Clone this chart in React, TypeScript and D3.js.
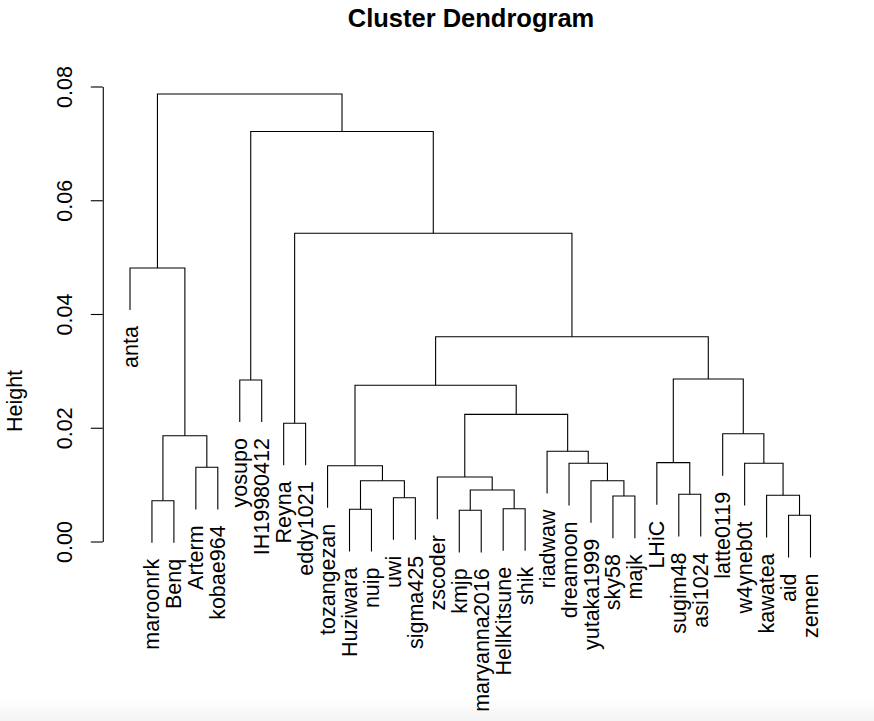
import { useEffect, useRef } from 'react';
import * as d3 from 'd3';

// leaf labels in plotting order
const leafLabels = [
  'anta', 'maroonrk', 'Benq', 'Arterm', 'kobae964', 'yosupo', 'IH19980412', 'Reyna',
  'eddy1021', 'tozangezan', 'Huziwara', 'nuip', 'uwi', 'sigma425', 'zscoder', 'kmjp',
  'maryanna2016', 'HellKitsune', 'shik', 'riadwaw', 'dreamoon', 'yutaka1999', 'sky58', 'majk',
  'LHiC', 'sugim48', 'asi1024', 'latte0119', 'w4yneb0t', 'kawatea', 'aid', 'zemen',
];

// hclust-style merge matrix: negative = leaf (1-based position), positive = earlier merge row
const mergeLeft = [
  -31, -16, -11, -18, -2, -13, -23, -30, -26, 2, 3, -22, -15, -4, -10, -21,
  -29, -25, -20, 5, -28, -8, 13, 15, -6, 18, 24, -1, 22, 25, 28,
];
const mergeRight = [
  -32, -17, -12, -19, -3, -14, -24, 1, -27, 4, 6, 7, 10, -5, 11, 12,
  8, 9, 16, 14, 17, -9, 19, 23, -7, 21, 26, 20, 27, 29, 30,
];
const mergeHeight = [
  0.00461, 0.00549, 0.00566, 0.00577, 0.00717, 0.0077, 0.0080, 0.00812, 0.0083, 0.00905,
  0.01069, 0.01069, 0.01134, 0.01305, 0.01333, 0.01375, 0.01375, 0.01386, 0.01586, 0.0186,
  0.01895, 0.0208, 0.02236, 0.02746, 0.0284, 0.02857, 0.0360, 0.0481, 0.0542, 0.0721, 0.07868,
];

const yTicks = [0, 0.02, 0.04, 0.06, 0.08];

const W = 874;
const H = 721;
const FONT = '"Liberation Sans", Arial, Helvetica, sans-serif';
const FS = 21.5;

export default function App() {
  const svgRef = useRef<SVGSVGElement>(null);

  useEffect(() => {
    if (!svgRef.current) return;
    const svg = d3.select(svgRef.current);
    svg.selectAll('*').remove();

    const n = leafLabels.length;
    const x = d3.scaleLinear().domain([1, n]).range([130, 810.5]);
    const y = d3.scaleLinear().domain([0, 0.08]).range([541.5, 86.5]);

    const hMax = d3.max(mergeHeight) as number;
    const hMin = d3.min(mergeHeight) as number;
    const hang = 0.1 * (hMax - hMin);

    // bottom gray fade like the screenshot
    const defs = svg.append('defs');
    const grad = defs.append('linearGradient')
      .attr('id', 'fade').attr('x1', 0).attr('y1', 0).attr('x2', 0).attr('y2', 1);
    grad.append('stop').attr('offset', '0%').attr('stop-color', '#ffffff');
    grad.append('stop').attr('offset', '100%').attr('stop-color', '#f3f3f3');
    svg.append('rect').attr('width', W).attr('height', H).attr('fill', '#fff');
    svg.append('rect').attr('y', 700).attr('width', W).attr('height', H - 700).attr('fill', 'url(#fade)');

    // positions of merges
    const mx: number[] = [];
    const posOf = (id: number) => (id < 0 ? x(-id) : mx[id - 1]);
    mergeHeight.forEach((h, i) => {
      mx[i] = (posOf(mergeLeft[i]) + posOf(mergeRight[i])) / 2;
    });

    const leafEnd: number[] = new Array(n + 1).fill(0);
    const bottomOf = (id: number, h: number) => {
      if (id < 0) {
        leafEnd[-id] = y(h - hang);
        return y(h - hang);
      }
      return y(mergeHeight[id - 1]);
    };

    const g = svg.append('g')
      .attr('fill', 'none')
      .attr('stroke', '#000')
      .attr('stroke-width', 1.1);

    mergeHeight.forEach((h, i) => {
      const xl = posOf(mergeLeft[i]);
      const xr = posOf(mergeRight[i]);
      const yl = bottomOf(mergeLeft[i], h);
      const yr = bottomOf(mergeRight[i], h);
      const ym = y(h);
      g.append('path').attr('d', `M${xl},${yl}V${ym}H${xr}V${yr}`);
    });

    // leaf labels
    svg.append('g')
      .selectAll('text')
      .data(leafLabels)
      .join('text')
      .attr('transform', (d, i) => `translate(${x(i + 1)},${leafEnd[i + 1] + 16}) rotate(-90)`)
      .attr('text-anchor', 'end')
      .attr('dy', '0.35em')
      .attr('font-family', FONT)
      .attr('font-size', FS)
      .attr('fill', '#000')
      .text((d) => d);

    // y axis
    const axisX = x(1 - 0.04 * (n - 1));
    const axis = svg.append('g')
      .attr('transform', `translate(${axisX},0)`)
      .call(d3.axisLeft(y).tickValues(yTicks).tickFormat(d3.format('.2f')).tickSize(12).tickSizeOuter(0));
    axis.select('.domain').attr('stroke', '#000').attr('stroke-width', 1.1);
    axis.selectAll('.tick line').attr('stroke', '#000').attr('stroke-width', 1.1);
    axis.selectAll('.tick text')
      .attr('x', 0)
      .attr('y', 0)
      .attr('dy', 0)
      .attr('transform', 'translate(-31,0) rotate(-90)')
      .attr('text-anchor', 'middle')
      .attr('font-family', FONT)
      .attr('font-size', FS)
      .attr('fill', '#000');

    // titles
    svg.append('text')
      .attr('x', 471)
      .attr('y', 27)
      .attr('text-anchor', 'middle')
      .attr('font-family', FONT)
      .attr('font-weight', 'bold')
      .attr('font-size', 25.5)
      .text('Cluster Dendrogram');

    svg.append('text')
      .attr('transform', 'translate(22,401) rotate(-90)')
      .attr('text-anchor', 'middle')
      .attr('font-family', FONT)
      .attr('font-size', FS)
      .text('Height');
  }, []);

  return (
    <svg
      ref={svgRef}
      width={W}
      height={H}
      style={{ position: 'absolute', left: 0, top: 0 }}
    />
  );
}
